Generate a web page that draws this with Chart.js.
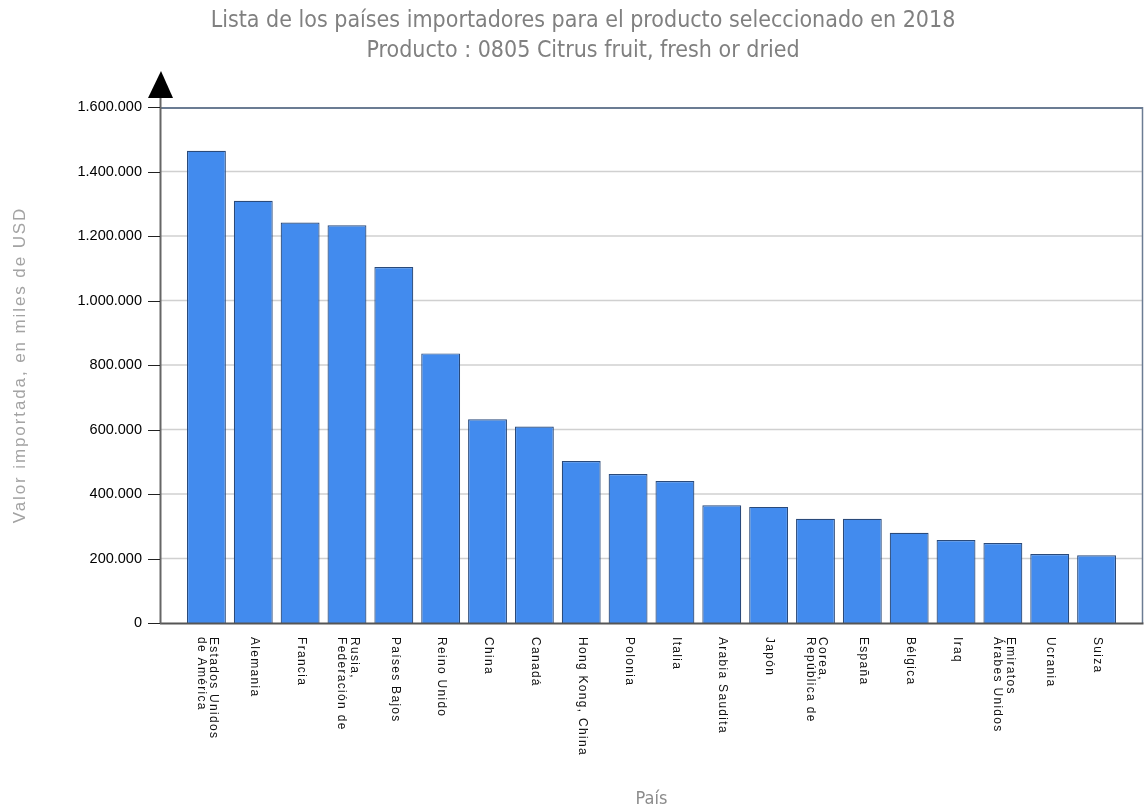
<!DOCTYPE html>
<html><head><meta charset="utf-8">
<script src="https://cdn.jsdelivr.net/npm/chart.js@4.4.1/dist/chart.umd.min.js"></script>
<style>html,body{margin:0;padding:0;background:#fff;}#wrap{width:1144px;height:810px;}</style>
</head><body><div id="wrap"><canvas id="c" width="1144" height="810"></canvas></div>
<script>
const titleLines = ['Lista de los países importadores para el producto seleccionado en 2018', 'Producto : 0805 Citrus fruit, fresh or dried'];
const countries = [['Estados Unidos','de América'],'Alemania','Francia',['Rusia,','Federación de'],'Países Bajos','Reino Unido','China','Canadá','Hong Kong, China','Polonia','Italia','Arabia Saudita','Japón',['Corea,','República de'],'España','Bélgica','Iraq',['Emiratos','Árabes Unidos'],'Ucrania','Suiza'];
const importValues = [1464000,1309000,1242000,1233000,1104000,836000,632000,609000,502000,462000,440000,365000,360000,323000,323000,280000,257000,248000,214000,210000];
const yTickLabels = ['0','200.000','400.000','600.000','800.000','1.000.000','1.200.000','1.400.000','1.600.000'];
const yAxisTitle = 'Valor importada, en miles de USD';
const xAxisTitle = 'País';

const decor = {
  id: 'decor',
  beforeDatasetsDraw(chart) {
    const {ctx, chartArea: a, scales: {y}} = chart;
    const L = a.left - 23, R = a.right + 23;
    ctx.save();
    ctx.strokeStyle = '#d0d0d0'; ctx.lineWidth = 1.5;
    y.ticks.forEach(t => {
      if (t.value <= 0 || t.value >= y.max) return;
      const py = y.getPixelForValue(t.value);
      ctx.beginPath(); ctx.moveTo(L, py); ctx.lineTo(R, py); ctx.stroke();
    });
    ctx.restore();
  },
  afterDatasetsDraw(chart) {
    const {ctx, chartArea: a, scales: {y}} = chart;
    const L = a.left - 23, R = a.right + 22.5;
    ctx.save();
    ctx.strokeStyle = '#6b7c93'; ctx.lineWidth = 2;
    ctx.beginPath(); ctx.moveTo(L, a.top + 1); ctx.lineTo(R, a.top + 1); ctx.stroke();
    ctx.lineWidth = 1.5;
    ctx.beginPath(); ctx.moveTo(R, a.top); ctx.lineTo(R, a.bottom); ctx.stroke();
    ctx.strokeStyle = '#555'; ctx.lineWidth = 2;
    ctx.beginPath(); ctx.moveTo(L, a.bottom + 0.5); ctx.lineTo(R + 1, a.bottom + 0.5); ctx.stroke();
    ctx.strokeStyle = '#666'; ctx.lineWidth = 2;
    ctx.beginPath(); ctx.moveTo(L + 0.5, a.top - 10); ctx.lineTo(L + 0.5, a.bottom + 1); ctx.stroke();
    ctx.strokeStyle = '#222'; ctx.lineWidth = 1;
    y.ticks.forEach(t => {
      const py = Math.round(y.getPixelForValue(t.value)) + 0.5;
      ctx.beginPath(); ctx.moveTo(L - 12, py); ctx.lineTo(L, py); ctx.stroke();
    });
    ctx.fillStyle = '#000';
    ctx.beginPath(); ctx.moveTo(L + 1, a.top - 36); ctx.lineTo(L - 12, a.top - 9); ctx.lineTo(L + 13, a.top - 9); ctx.closePath(); ctx.fill();
    ctx.restore();
  },
  afterDraw(chart) {
    const {ctx, chartArea: a, scales: {x}} = chart;
    ctx.save();
    ctx.font = '12px "Liberation Sans", Arial, sans-serif';
    ctx.fillStyle = '#111';
    ctx.letterSpacing = '1.3px';
    ctx.textAlign = 'left'; ctx.textBaseline = 'middle';
    countries.forEach((lab, i) => {
      const lines = Array.isArray(lab) ? lab : [lab];
      const cx = x.getPixelForValue(i);
      ctx.save();
      ctx.translate(cx + 1, a.bottom + 14);
      ctx.rotate(Math.PI / 2);
      lines.forEach((ln, j) => {
        ctx.fillText(ln, 0, (j - (lines.length - 1) / 2) * 12.5);
      });
      ctx.restore();
    });
    ctx.restore();
    ctx.save();
    ctx.translate(20, (a.top + a.bottom) / 2);
    ctx.rotate(-Math.PI / 2);
    ctx.font = '17px "Liberation Sans", Arial, sans-serif';
    ctx.letterSpacing = '1.9px';
    ctx.fillStyle = '#a3a3a3';
    ctx.textAlign = 'center'; ctx.textBaseline = 'middle';
    ctx.fillText(yAxisTitle, 0, 0);
    ctx.restore();
  }
};

new Chart(document.getElementById('c'), {
  type: 'bar',
  data: {
    labels: countries,
    datasets: [{
      data: importValues,
      backgroundColor: '#428BEE',
      borderColor: '#2A4A7A',
      borderWidth: 1.2,
      barPercentage: 0.83,
      categoryPercentage: 1
    }]
  },
  options: {
    responsive: false,
    animation: false,
    devicePixelRatio: 1,
    layout: {padding: {left: 46, right: 24, top: 0, bottom: 0}},
    plugins: {
      legend: {display: false},
      tooltip: {enabled: false},
      title: {
        display: true, text: titleLines, color: '#808080',
        font: {family: '"DejaVu Sans Condensed", "DejaVu Sans", sans-serif', size: 23, weight: 'normal', lineHeight: 30 / 23},
        padding: {top: 6, bottom: 41}
      }
    },
    scales: {
      x: {
        type: 'category', offset: true,
        grid: {display: false, drawTicks: false}, border: {display: false},
        ticks: {display: false},
        title: {display: true, text: xAxisTitle, color: '#8c8c8c',
          font: {family: '"DejaVu Sans Condensed", "DejaVu Sans", sans-serif', size: 18, weight: 'normal'},
          padding: {top: 0, bottom: 0}},
        afterFit(s) { s.height = 187; }
      },
      y: {
        min: 0, max: 1600000,
        grid: {display: false, drawTicks: false}, border: {display: false},
        ticks: {stepSize: 200000, padding: 41, color: '#000',
          font: {family: '"Liberation Sans", Arial, sans-serif', size: 14.5},
          callback: (v, i) => yTickLabels[i]},
        afterFit(s) { s.width = 137; }
      }
    }
  },
  plugins: [decor]
});
</script>
</body></html>
